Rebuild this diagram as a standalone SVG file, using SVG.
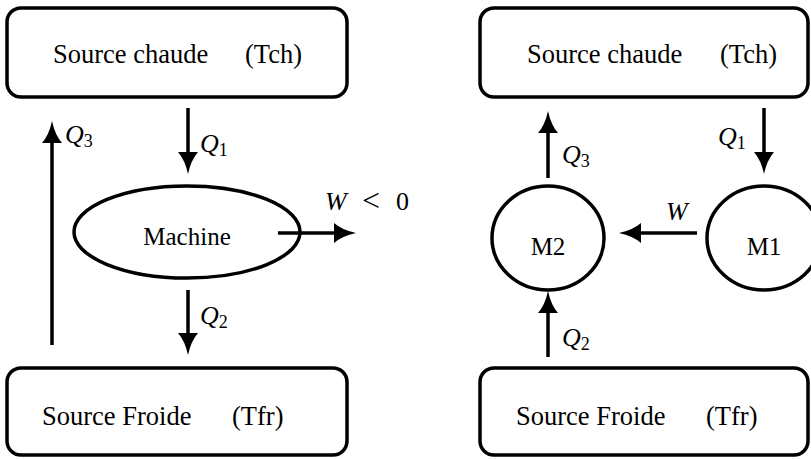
<svg xmlns="http://www.w3.org/2000/svg" width="811" height="459" viewBox="0 0 811 459">
  <style>
    .box { fill: #fff; stroke: #000; stroke-width: 3.5; }
    .node { fill: #fff; stroke: #000; stroke-width: 3.5; }
    .lbl { font-family: "Liberation Serif", "Times New Roman", serif; font-size: 26.5px; fill: #000; }
    .small { font-size: 25px; }
    .math { font-family: "Liberation Serif", "Times New Roman", serif; font-size: 26px; fill: #000; }
    .it { font-style: italic; }
    .sub { font-size: 18px; }
    .rel { font-size: 32px; }
    .arrow { stroke: #000; stroke-width: 3.5; fill: none; marker-end: url(#head); }
  </style>
  <defs>
    <marker id="head" viewBox="0 0 22 20" refX="1" refY="10" markerWidth="22" markerHeight="20" markerUnits="userSpaceOnUse" orient="auto">
      <path d="M0,0 Q8,7 22,10 Q8,13 0,20 Z" fill="#000"/>
    </marker>
  </defs>

  <rect width="811" height="459" fill="#fff"/>

  <!-- left engine -->
  <g id="hot-left">
    <rect class="box" x="7" y="8" width="340" height="89" rx="14"/>
    <text class="lbl" x="53" y="63">Source chaude</text>
    <text class="lbl" x="245" y="63">(Tch)</text>
  </g>
  <g id="machine">
    <ellipse class="node" cx="187" cy="232" rx="113" ry="46"/>
    <text class="lbl small" x="187" y="245" text-anchor="middle">Machine</text>
  </g>
  <g id="cold-left">
    <rect class="box" x="7" y="368" width="340" height="87" rx="14"/>
    <text class="lbl" x="42" y="425">Source Froide</text>
    <text class="lbl" x="232" y="425">(Tfr)</text>
  </g>

  <!-- right engine pair -->
  <g id="hot-right">
    <rect class="box" x="480" y="8" width="328" height="89" rx="14"/>
    <text class="lbl" x="527" y="63">Source chaude</text>
    <text class="lbl" x="720" y="63">(Tch)</text>
  </g>
  <g id="m2">
    <ellipse class="node" cx="548" cy="238" rx="56" ry="52"/>
    <text class="lbl small" x="548" y="255" text-anchor="middle">M2</text>
  </g>
  <g id="m1">
    <ellipse class="node" cx="764" cy="238" rx="57" ry="52"/>
    <text class="lbl small" x="764" y="255" text-anchor="middle">M1</text>
  </g>
  <g id="cold-right">
    <rect class="box" x="480" y="368" width="328" height="87" rx="14"/>
    <text class="lbl" x="516" y="425">Source Froide</text>
    <text class="lbl" x="706" y="425">(Tfr)</text>
  </g>

  <g id="connectors">
    <!-- left -->
    <line class="arrow" x1="52" y1="345" x2="52" y2="142"/>
    <line class="arrow" x1="188" y1="108" x2="188" y2="153"/>
    <line class="arrow" x1="188" y1="290" x2="188" y2="334"/>
    <line class="arrow" x1="278" y1="233" x2="335" y2="233"/>
    <!-- right -->
    <line class="arrow" x1="548" y1="178" x2="548" y2="132"/>
    <line class="arrow" x1="764" y1="108" x2="764" y2="153"/>
    <line class="arrow" x1="697" y1="233" x2="640" y2="233"/>
    <line class="arrow" x1="548" y1="357" x2="548" y2="312"/>

    <!-- labels -->
    <text class="math" x="65" y="143"><tspan class="it">Q</tspan><tspan class="sub" dy="4">3</tspan></text>
    <text class="math" x="200" y="152"><tspan class="it">Q</tspan><tspan class="sub" dy="4">1</tspan></text>
    <text class="math" x="200" y="324"><tspan class="it">Q</tspan><tspan class="sub" dy="4">2</tspan></text>
    <text class="math" y="210"><tspan class="it" x="325">W</tspan><tspan class="rel" x="362" dy="1">&lt;</tspan><tspan x="396" dy="-1">0</tspan></text>
    <text class="math" x="562" y="163"><tspan class="it">Q</tspan><tspan class="sub" dy="4">3</tspan></text>
    <text class="math" x="718" y="145"><tspan class="it">Q</tspan><tspan class="sub" dy="4">1</tspan></text>
    <text class="math" x="666" y="220"><tspan class="it">W</tspan></text>
    <text class="math" x="562" y="346"><tspan class="it">Q</tspan><tspan class="sub" dy="4">2</tspan></text>
  </g>
</svg>
